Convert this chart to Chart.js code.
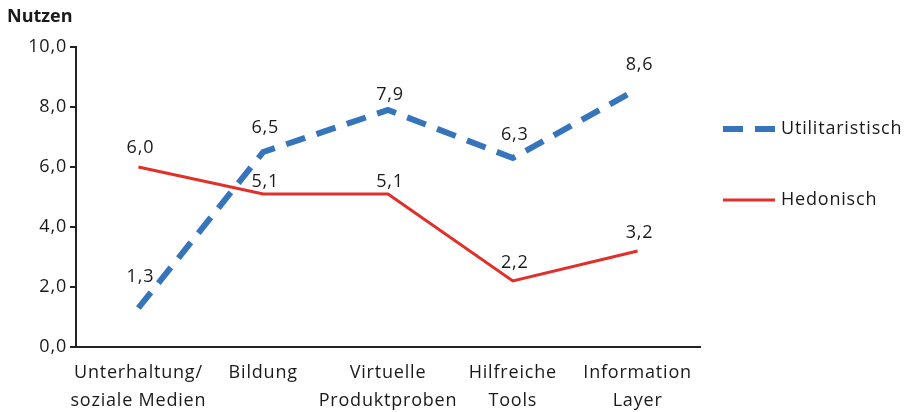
<!DOCTYPE html>
<html>
<head>
<meta charset="utf-8">
<script src="https://cdn.jsdelivr.net/npm/chart.js@4.4.1/dist/chart.umd.min.js"></script>
<style>
html,body{margin:0;padding:0;background:#fff;}
#wrap{width:912px;height:412px;position:relative;}
</style>
</head>
<body>
<div id="wrap"><canvas id="c" width="912" height="412"></canvas></div>
<script>
const categories = [['Unterhaltung/', 'soziale Medien'], 'Bildung', ['Virtuelle', 'Produktproben'], ['Hilfreiche', 'Tools'], ['Information', 'Layer']];
const utilitaristisch = [1.3, 6.5, 7.9, 6.3, 8.6];
const hedonisch = [6.0, 5.1, 5.1, 2.2, 3.2];
const yTicks = [0, 2, 4, 6, 8, 10];
const seriesNames = ['Utilitaristisch', 'Hedonisch'];
const axisTitle = 'Nutzen';

const FONT = '"Open Sans", "Liberation Sans", sans-serif';
const TXT = '#1a1a1a';
const BLUE = '#3675BC';
const RED = '#E1302A';
const LS = '0.8px';

const fmt = v => v.toFixed(1).replace('.', ',');

const spacingPlugin = {
  id: 'spacingPlugin',
  beforeInit(chart) { chart.ctx.letterSpacing = LS; },
  beforeLayout(chart) { chart.ctx.letterSpacing = LS; },
  beforeDraw(chart) { chart.ctx.letterSpacing = LS; }
};

const labelsPlugin = {
  id: 'labelsPlugin',
  afterDatasetsDraw(chart) {
    const ctx = chart.ctx;
    ctx.save();
    ctx.letterSpacing = LS;
    ctx.font = '18px ' + FONT;
    ctx.fillStyle = TXT;
    ctx.textAlign = 'center';
    ctx.textBaseline = 'middle';
    chart.data.datasets.forEach((ds, i) => {
      const meta = chart.getDatasetMeta(i);
      meta.data.forEach((pt, j) => {
        ctx.fillText(fmt(ds.data[j]), pt.x + 2, pt.y - ds.labelOffsets[j]);
      });
    });
    // title
    ctx.font = 'bold 18px ' + FONT;
    ctx.letterSpacing = '0px';
    ctx.textAlign = 'left';
    ctx.fillText(axisTitle, 7, 17);
    ctx.letterSpacing = LS;
    // legend
    const ca = chart.chartArea;
    const lx = ca.right + 23;
    const ys = [129, 200];
    chart.data.datasets.forEach((ds, i) => {
      ctx.save();
      ctx.strokeStyle = ds.borderColor;
      ctx.lineWidth = ds.borderWidth;
      ctx.setLineDash(ds.borderDash || []);
      ctx.beginPath();
      ctx.moveTo(lx, ys[i]);
      ctx.lineTo(lx + 52, ys[i]);
      ctx.stroke();
      ctx.restore();
      ctx.font = '18px ' + FONT;
      ctx.fillStyle = TXT;
      ctx.textAlign = 'left';
      ctx.textBaseline = 'middle';
      ctx.fillText(ds.label, lx + 58, ys[i]);
    });
    ctx.restore();
  }
};

new Chart(document.getElementById('c'), {
  type: 'line',
  data: {
    labels: categories,
    datasets: [
      {label: seriesNames[0], data: utilitaristisch, borderColor: BLUE, borderWidth: 6, borderDash: [20, 12], borderCapStyle: 'butt', pointRadius: 0, fill: false, tension: 0, labelOffsets: [31, 24, 15, 23, 24]},
      {label: seriesNames[1], data: hedonisch, borderColor: RED, borderWidth: 3, pointRadius: 0, fill: false, tension: 0, labelOffsets: [19, 12, 12, 18, 18]}
    ]
  },
  options: {
    responsive: false,
    animation: false,
    layout: {padding: {top: 47, right: 212, bottom: 0, left: 0}},
    plugins: {legend: {display: false}, tooltip: {enabled: false}},
    scales: {
      x: {
        offset: true,
        grid: {display: false, drawTicks: false},
        border: {display: true, color: '#222', width: 2},
        ticks: {font: {family: FONT, size: 18}, color: TXT, padding: 12, maxRotation: 0, autoSkip: false, font: {family: FONT, size: 18, lineHeight: 1.55}},
        afterFit(s) { s.height = 65; }
      },
      y: {
        min: 0, max: 10,
        afterBuildTicks(s) { s.ticks = yTicks.map(v => ({value: v})); },
        grid: {drawOnChartArea: false, drawTicks: true, tickLength: 6, color: '#222', lineWidth: 2},
        border: {display: true, color: '#222', width: 2},
        ticks: {font: {family: FONT, size: 18}, color: TXT, padding: 3, callback: v => fmt(v)},
        afterFit(s) { s.width = 76; }
      }
    }
  },
  plugins: [spacingPlugin, labelsPlugin]
});
</script>
</body>
</html>
